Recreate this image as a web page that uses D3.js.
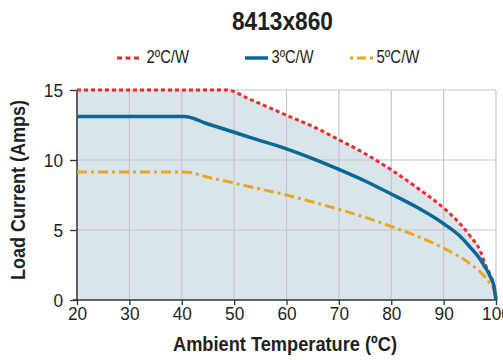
<!DOCTYPE html>
<html><head><meta charset="utf-8">
<script src="https://cdn.jsdelivr.net/npm/d3@7"></script>
<style>
body{margin:0;background:#fff;}
svg text{font-family:"Liberation Sans",Arial,Helvetica,sans-serif;fill:#231f20;}
</style></head><body>
<svg id="c" width="503" height="360"></svg>
<script>
const title = "8413x860";
const seriesNames = ["2ºC/W", "3ºC/W", "5ºC/W"];
const xTicks = [20,30,40,50,60,70,80,90,100];
const yTicks = [0,5,10,15];
const tempRed = [20,48.5,53,60,65,70,75,80,85,90,93,95,97,98,99,99.6,100];
const ampRed  = [15,15,14.34,13.2,12.4,11.45,10.45,9.3,8.0,6.57,5.5,4.6,3.5,2.5,1.7,1.0,0];
const tempBlue = [20,40.5,45,50,53,60,65,70,75,80,85,90,93,95,97,98,99,99.6,100];
const ampBlue  = [13.1,13.1,12.57,11.98,11.62,10.8,10.1,9.33,8.5,7.57,6.6,5.45,4.6,3.8,2.9,2.3,1.6,1.0,0];
const tempOrange = [20,40.5,45,50,53,60,65,70,75,80,85,90,93,95,97,98,99,99.6,100];
const ampOrange  = [9.15,9.15,8.77,8.35,8.09,7.5,7.0,6.48,5.9,5.25,4.55,3.7,3.1,2.6,2.0,1.6,1.1,0.7,0];

const svg = d3.select("#c");
const L=77,R=496,T=90,B=300;
const x = d3.scaleLinear().domain([20,100]).range([L,R]);
const y = d3.scaleLinear().domain([0,15]).range([B,T]);
const zip=(a,b)=>a.map((t,i)=>[t,b[i]]);
const red=zip(tempRed,ampRed), blue=zip(tempBlue,ampBlue), orange=zip(tempOrange,ampOrange);

// fill under red envelope
svg.append("path").datum(red)
  .attr("d", d3.area().x(d=>x(d[0])).y0(y(0)).y1(d=>y(d[1])).curve(d3.curveMonotoneX))
  .attr("fill","#d9e5eb");

// grid
svg.append("g").selectAll("line").data(xTicks.slice(1)).join("line")
  .attr("x1",d=>x(d)).attr("x2",d=>x(d)).attr("y1",T).attr("y2",B)
  .attr("stroke","#c4c6c8").attr("stroke-width",1.2);
svg.append("g").selectAll("line").data(yTicks.slice(1)).join("line")
  .attr("x1",L).attr("x2",R).attr("y1",d=>y(d)).attr("y2",d=>y(d))
  .attr("stroke","#c4c6c8").attr("stroke-width",1.2);

// axes
const xa = svg.append("g").attr("transform",`translate(0,${B})`)
  .call(d3.axisBottom(x).tickValues(xTicks).tickSize(5).tickPadding(2));
const ya = svg.append("g").attr("transform",`translate(${L},0)`)
  .call(d3.axisLeft(y).tickValues(yTicks).tickSize(7).tickPadding(7));
[xa,ya].forEach(a=>{
  a.select(".domain").attr("stroke","#333").attr("stroke-width",1.5);
  a.selectAll(".tick line").attr("stroke","#333").attr("stroke-width",1.3);
  a.selectAll("text").attr("font-size",18.5).attr("fill","#231f20")
   .attr("font-family",'"Liberation Sans",Arial,sans-serif')
   .attr("textLength",function(){return this.textContent.length*9.6;})
   .attr("lengthAdjust","spacingAndGlyphs");
});
ya.selectAll("text").attr("dy","0.36em");
ya.select(".domain").attr("d",`M0,${B}V${T}`);
xa.select(".domain").attr("d",`M${L-4},0H${R}`);

const line = d3.line().x(d=>x(d[0])).y(d=>y(d[1])).curve(d3.curveMonotoneX);
svg.append("path").datum(orange).attr("d",line).attr("fill","none")
  .attr("stroke","#e8a526").attr("stroke-width",3).attr("stroke-dasharray","10,4,3,4");
svg.append("path").datum(red).attr("d",line).attr("fill","none")
  .attr("stroke","#ec2a2f").attr("stroke-width",3).attr("stroke-dasharray","4,3");
svg.append("path").datum(blue).attr("d",line).attr("fill","none")
  .attr("stroke","#0b6896").attr("stroke-width",3.5);

// title
svg.append("text").attr("x",232).attr("y",30)
  .attr("font-size",25).attr("font-weight","bold")
  .attr("textLength",101).attr("lengthAdjust","spacingAndGlyphs").text(title);

// legend
const leg = [
  {x1:117,x2:139,tx:146.5,tw:42.5,c:"#ec2a2f",w:3,da:"5,3.5"},
  {x1:245,x2:268,tx:271.5,tw:42,c:"#0b6896",w:3.5,da:null},
  {x1:350,x2:374,tx:376.5,tw:43,c:"#e8a526",w:3,da:"3,4,9,4,3"}
];
leg.forEach((l,i)=>{
  svg.append("line").attr("x1",l.x1).attr("x2",l.x2).attr("y1",58).attr("y2",58)
    .attr("stroke",l.c).attr("stroke-width",l.w).attr("stroke-dasharray",l.da);
  svg.append("text").attr("x",l.tx).attr("y",63).attr("font-size",17.5)
    .attr("textLength",l.tw).attr("lengthAdjust","spacingAndGlyphs").text(seriesNames[i]);
});

// axis titles
svg.append("text").attr("x",173).attr("y",351)
  .attr("font-size",20).attr("font-weight","bold")
  .attr("textLength",224).attr("lengthAdjust","spacingAndGlyphs").text("Ambient Temperature (ºC)");
svg.append("text").attr("transform","translate(25,280) rotate(-90)")
  .attr("font-size",20.5).attr("font-weight","bold")
  .attr("textLength",180).attr("lengthAdjust","spacingAndGlyphs").text("Load Current (Amps)");
</script></body></html>
